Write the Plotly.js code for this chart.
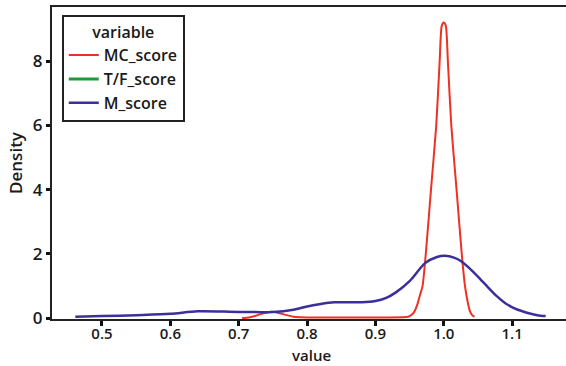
<!DOCTYPE html>
<html>
<head>
<meta charset="utf-8">
<script src="https://cdn.plot.ly/plotly-3.0.1.min.js"></script>
<style>html,body{margin:0;padding:0;background:#fff;}#chart{width:566px;height:366px;}</style>
</head>
<body>
<div id="chart"></div>
<script>
// MC_score density (red)
const mcX = [0.705,0.715,0.725,0.735,0.745,0.752,0.76,0.77,0.78,0.79,0.80,0.85,0.90,0.94,0.948,0.953,0.957,0.961,0.965,0.969,0.9737,0.9813,0.989,0.994,0.997,1.0,1.003,1.006,1.011,1.0187,1.0263,1.031,1.035,1.0385,1.042,1.045];
const mcY = [0.0,0.02,0.07,0.14,0.19,0.19,0.15,0.09,0.04,0.025,0.02,0.02,0.02,0.025,0.04,0.1,0.2,0.4,0.7,1.0,2.0,4.0,6.0,8.0,9.1,9.2,9.1,8.0,6.0,4.0,2.0,1.0,0.5,0.2,0.08,0.04];
// T/F_score density (green) - not visible in plot (no spread)
const tfX = [null];
const tfY = [null];
// M_score density (blue)
const mX = [0.461,0.5,0.55,0.6,0.64,0.7,0.75,0.78,0.8,0.82,0.84,0.86,0.88,0.9,0.915,0.93,0.95,0.9727,0.99,1.002,1.015,1.026,1.04,1.053,1.065,1.0775,1.09,1.1018,1.115,1.126,1.137,1.149];
const mY = [0.04,0.06,0.09,0.13,0.21,0.19,0.19,0.26,0.36,0.44,0.49,0.49,0.49,0.53,0.62,0.8,1.15,1.71,1.9,1.94,1.88,1.76,1.5,1.22,0.95,0.68,0.46,0.32,0.21,0.14,0.09,0.06];

const tickVals = [0.5,0.6,0.7,0.8,0.9,1.0,1.1];
const tickText = ["0.5","0.6","0.7","0.8","0.9","1.0","1.1"];
const yTickVals = [0,2,4,6,8];
const xTitle = 'value';

const fontFam = '"Open Sans", "DejaVu Sans", sans-serif';
const f = {family: fontFam, size: 17, color: '#1a1a1a', weight: 600};
const fl = {family: fontFam, size: 16, color: '#1a1a1a', weight: 600};
const fx = {family: fontFam, size: 15, color: '#1a1a1a', weight: 600};
const data = [
  {x: mcX, y: mcY, name: 'MC_score', type: 'scatter', mode: 'lines', line: {color: '#ee3124', width: 2, shape: 'spline', smoothing: 0.6}},
  {x: tfX, y: tfY, name: 'T/F_score', type: 'scatter', mode: 'lines', line: {color: '#1f9a3b', width: 3}},
  {x: mX, y: mY, name: 'M_score', type: 'scatter', mode: 'lines', line: {color: '#3b2f9c', width: 2.5, shape: 'spline', smoothing: 0.8}}
];
const layout = {
  width: 566, height: 366,
  margin: {l: 52, r: 0, t: 7, b: 47},
  paper_bgcolor: '#fff', plot_bgcolor: '#fff',
  font: f,
  showlegend: true,
  xaxis: {
    range: [0.4269, 1.1788],
    tickvals: tickVals, ticktext: tickText,
    showgrid: false, zeroline: false, automargin: false,
    showline: true, linecolor: '#222', linewidth: 2, mirror: true,
    ticks: 'outside', ticklen: 5, tickwidth: 3, tickcolor: '#111',
    ticklabelstandoff: -5,
    tickfont: fx
  },
  yaxis: {
    range: [-0.03, 9.686],
    tickvals: yTickVals,
    showgrid: false, zeroline: false, automargin: false,
    showline: true, linecolor: '#222', linewidth: 2,
    ticks: 'outside', ticklen: 4, tickwidth: 3, tickcolor: '#111',
    tickfont: f,
    title: {text: 'Density', font: f, standoff: 6}
  },
  annotations: [
    {text: xTitle, xref: 'paper', yref: 'paper', x: 0.505, y: -0.1152, xanchor: 'center', yanchor: 'middle', showarrow: false, borderpad: 0, font: fx}
  ],
  legend: {
    x: 0.019, y: 0.973, xanchor: 'left', yanchor: 'top',
    bgcolor: '#fff', bordercolor: '#222', borderwidth: 2,
    font: fl,
    title: {text: 'variable', side: 'top center', font: fl},
    itemwidth: 30
  }
};
Plotly.newPlot('chart', data, layout, {staticPlot: true, displayModeBar: false});
</script>
</body>
</html>
